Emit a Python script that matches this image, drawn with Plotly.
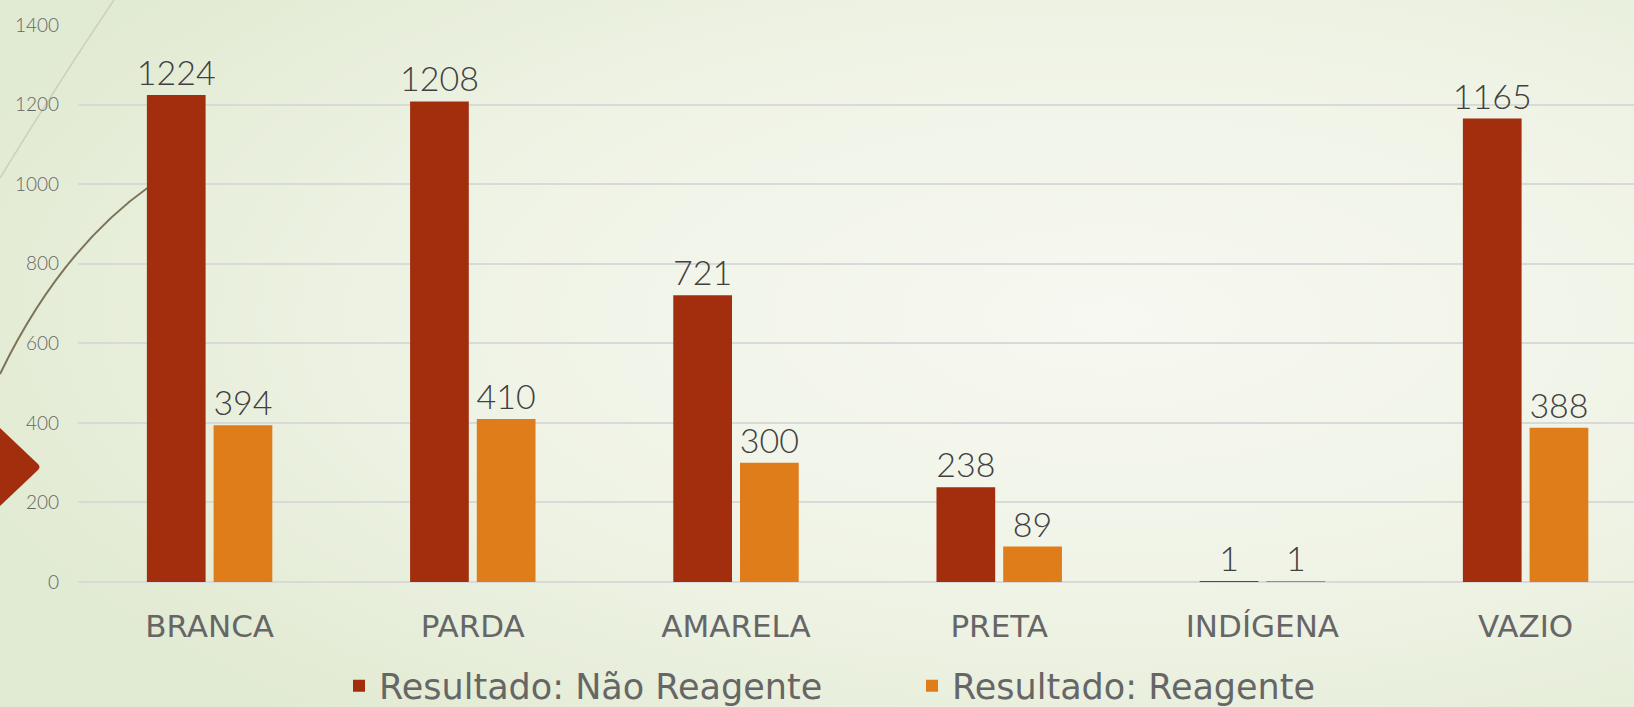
import plotly.graph_objects as go
import base64

categories = ["BRANCA", "PARDA", "AMARELA", "PRETA", "INDÍGENA", "VAZIO"]
nao_reagente = [1224, 1208, 721, 238, 1, 1165]
reagente = [394, 410, 300, 89, 1, 388]
series_names = ["Resultado: Não Reagente", "Resultado: Reagente"]
y_ticks = [0, 200, 400, 600, 800, 1000, 1200, 1400]

RED = "#A32E0E"
ORANGE = "#DE7D19"
FONT = "Lato, 'Noto Sans', sans-serif"
WIDE = "'DejaVu Sans', Lato, sans-serif"

W, H = 1634, 707
L, R, T, B = 78, 0, 25, 125
PW, PH = W - L - R, H - T - B

svg = f'''<svg xmlns="http://www.w3.org/2000/svg" width="{W}" height="{H}" viewBox="0 0 {W} {H}" preserveAspectRatio="none">
<defs><radialGradient id="g" cx="68%" cy="45%" r="75%">
<stop offset="0%" stop-color="#f7f8f1"/><stop offset="55%" stop-color="#eff3e5"/><stop offset="100%" stop-color="#e1ead2"/>
</radialGradient></defs>
<rect width="{W}" height="{H}" fill="url(#g)"/>
<path d="M114,0 Q60,80 0,178" stroke="#cfcfbd" stroke-width="1.5" fill="none"/>
<path d="M150,186 Q60,250 0,374" stroke="#7d7458" stroke-width="2" fill="none"/>
<path d="M38,464 Q41,467 38,470 L-2,508 L-44,467 L-2,426 Z" fill="{RED}"/>
</svg>'''
src = "data:image/svg+xml;base64," + base64.b64encode(svg.encode()).decode()

label_font = dict(family=FONT, size=34, color="#404040", weight=300)

fig = go.Figure()
fig.add_trace(go.Bar(x=categories, y=nao_reagente, name=series_names[0],
                     marker=dict(color=RED, line=dict(width=0)),
                     text=nao_reagente, textposition="outside", cliponaxis=False,
                     constraintext="none", textfont=label_font))
fig.add_trace(go.Bar(x=categories, y=reagente, name=series_names[1],
                     marker=dict(color=ORANGE, line=dict(width=0)),
                     text=reagente, textposition="outside", cliponaxis=False,
                     constraintext="none", textfont=label_font))

fig.update_layout(
    width=W, height=H,
    margin=dict(l=L, r=R, t=T, b=B, pad=0, autoexpand=False),
    paper_bgcolor="#e8efdc", plot_bgcolor="rgba(0,0,0,0)",
    barmode="group", bargap=0.493, bargroupgap=0.12,
    font=dict(family=FONT, color="#595959"),
    showlegend=True,
    legend=dict(orientation="h", x=(339 - L) / PW, xanchor="left",
                yref="container", y=(H - 686) / H, yanchor="middle",
                entrywidth=528, entrywidthmode="pixels",
                font=dict(family=WIDE, size=35, color="#666666"),
                bgcolor="rgba(0,0,0,0)", itemwidth=30, traceorder="normal"),
    images=[dict(source=src, xref="paper", yref="paper",
                 x=-L / PW, y=1 + T / PH, sizex=W / PW, sizey=H / PH,
                 xanchor="left", yanchor="top", sizing="stretch", layer="below")],
)
fig.update_xaxes(range=[-0.5, -0.5 + PW / 263.2], showgrid=False, showline=False,
                 zeroline=False, automargin=False,
                 tickfont=dict(family=WIDE, size=31, color="#666666"),
                 ticklabelstandoff=23, fixedrange=True)
fig.update_yaxes(range=[0, 1400], tickvals=y_ticks, showgrid=True, automargin=False,
                 gridcolor="#d9d9d9", gridwidth=1.5, zeroline=True,
                 zerolinecolor="#d9d9d9", zerolinewidth=1.5, showline=False,
                 tickfont=dict(size=19, color="#666666", weight=300), ticklabelstandoff=18,
                 fixedrange=True)

fig.write_html("out.html", config={"displayModeBar": False},
               post_script="document.body.style.margin='0';")
